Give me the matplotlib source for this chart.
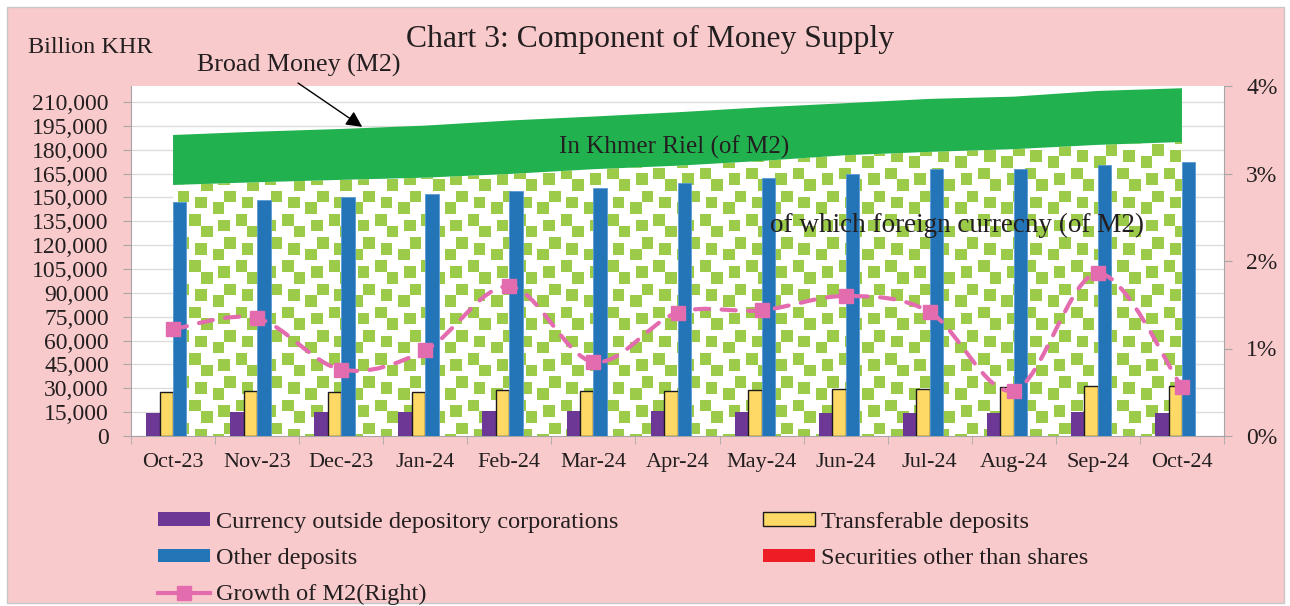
import numpy as np
import matplotlib
matplotlib.use("Agg")
import matplotlib.pyplot as plt
from matplotlib.path import Path
from matplotlib.patches import PathPatch, Rectangle, Patch
from matplotlib.lines import Line2D
from matplotlib.ticker import FuncFormatter

plt.rcParams['font.family'] = ['Liberation Serif', 'DejaVu Serif']

months = ['Oct-23', 'Nov-23', 'Dec-23', 'Jan-24', 'Feb-24', 'Mar-24', 'Apr-24',
          'May-24', 'Jun-24', 'Jul-24', 'Aug-24', 'Sep-24', 'Oct-24']

# billion KHR
currency = [14600, 14900, 14900, 14900, 15500, 15900, 15700, 14900, 14700, 14700, 14700, 15300, 14700]
transferable = [27500, 28500, 27900, 27900, 29100, 28500, 28300, 28700, 29700, 29700, 30800, 31600, 31600]
other_dep = [147100, 148400, 150500, 152400, 154000, 155700, 158900, 162400, 164600, 167700, 167900, 170400, 172100]
securities = [0, 0, 0, 0, 0, 0, 0, 0, 0, 0, 0, 0, 0]

# M2 split (areas)
foreign_cur = [157800, 159500, 161000, 162400, 164700, 167700, 169900, 172900, 176500, 178600, 180300, 183000, 184800]
khmer_riel = [31400, 31800, 32000, 32700, 33600, 33100, 33600, 33700, 32700, 33300, 33000, 33900, 33800]

# monthly growth of M2, %
growth = [1.22, 1.345, 0.76, 0.98, 1.71, 0.846, 1.41, 1.436, 1.60, 1.417, 0.52, 1.86, 0.557]

PINK_BG = '#F9CACB'
PURPLE = '#6D3895'
YELLOW = '#FFD966'
BLUE = '#2475B8'
RED = '#EE1C25'
GREEN = '#21B14F'
CONFETTI = '#9BCB48'
LINE_PINK = '#E36CAF'
GRAY = '#A6A6A6'
TXT = '#231F20'


def smooth_path(xs, ys):
    # catmull-rom through the points, like excel's smoothed line
    pts = np.column_stack([xs, ys]).astype(float)
    n = len(pts)
    verts = [pts[0]]
    codes = [Path.MOVETO]
    for i in range(n - 1):
        p0 = pts[i - 1] if i > 0 else pts[i]
        p1 = pts[i]
        p2 = pts[i + 1]
        p3 = pts[i + 2] if i + 2 < n else pts[i + 1]
        verts += [p1 + (p2 - p0) / 6, p2 - (p3 - p1) / 6, p2]
        codes += [Path.CURVE4] * 3
    return Path(verts, codes)


W, H = 1290, 606
fig = plt.figure(figsize=(W / 100, H / 100), dpi=100, facecolor='white')
fig.patches.append(Rectangle((7 / W, 3 / H), 1277 / W, 596 / H, transform=fig.transFigure,
                             facecolor=PINK_BG, edgecolor='#C8C8C8', lw=1, zorder=-10))

left, right, top, bottom = 131, 1224, 86, 436
ax = fig.add_axes([left / W, 1 - bottom / H, (right - left) / W, (bottom - top) / H])
ax.set_facecolor('white')

x = np.arange(len(months))
ymax = 220000
ax.set_xlim(-0.5, len(months) - 0.5)
ax.set_ylim(0, ymax)

# foreign currency area with confetti pattern
fc_poly = ax.fill_between(x, 0, foreign_cur, facecolor='white', edgecolor='none', zorder=1)
tile = np.array([[1, 0, 0, 0, 1, 1, 0, 1],
                 [0, 0, 0, 0, 1, 1, 0, 0],
                 [1, 1, 0, 0, 0, 0, 0, 0],
                 [1, 1, 0, 1, 1, 0, 0, 0],
                 [0, 0, 0, 1, 1, 0, 1, 1],
                 [0, 0, 0, 0, 0, 0, 1, 1],
                 [0, 0, 1, 1, 0, 0, 0, 0],
                 [1, 0, 1, 1, 0, 0, 0, 1]])
pw, ph = right - left, bottom - top
rr, cc = np.mgrid[0:ph, 0:pw]
mask = tile[(rr / 5.8).astype(int) % 8, (cc / 5.8).astype(int) % 8]
rgb = np.array(matplotlib.colors.to_rgb(CONFETTI))
img = np.ones((ph, pw, 3))
img[mask == 1] = rgb
im = ax.imshow(img, extent=(-0.5, len(months) - 0.5, 0, ymax), origin='upper',
               aspect='auto', interpolation='nearest', zorder=1.2)
im.set_clip_path(fc_poly.get_paths()[0], transform=ax.transData)

m2_top = [f + k for f, k in zip(foreign_cur, khmer_riel)]
ax.fill_between(x, foreign_cur, m2_top, facecolor=GREEN, edgecolor='none', zorder=1.5)

# bars
bw = 0.16
ax.bar(x - 1.5 * bw, currency, bw, color=PURPLE, zorder=3)
ax.bar(x - 0.5 * bw, transferable, bw, color=YELLOW, edgecolor='#1A1A1A', lw=1, zorder=3)
ax.bar(x + 0.5 * bw, other_dep, bw, color=BLUE, edgecolor='#5B9BD5', lw=0.6, zorder=3)
ax.bar(x + 1.5 * bw, securities, bw, color=RED, zorder=3)

ax.set_xlim(-0.5, len(months) - 0.5)
ax.set_ylim(0, ymax)
ax.set_yticks(np.arange(0, 210001, 15000))
ax.yaxis.set_major_formatter(FuncFormatter(lambda v, p: f'{int(v):,}'))
ax.yaxis.grid(True, color='#DCDCDC', lw=1)
ax.set_axisbelow(True)
ax.set_xticks(x)
ax.set_xticklabels(months)
ax.set_xticks(np.arange(-0.5, len(months), 1), minor=True)
ax.tick_params(axis='x', which='major', length=0, pad=12, labelsize=16, labelcolor=TXT)
ax.tick_params(axis='x', which='minor', length=6, color=GRAY)
ax.tick_params(axis='y', length=6, pad=10, color=GRAY, labelsize=17, labelcolor=TXT)
for s in ['top', 'right']:
    ax.spines[s].set_visible(False)
for s in ['left', 'bottom']:
    ax.spines[s].set_color(GRAY)

# growth line on right axis
ax2 = ax.twinx()
ax2.set_ylim(0, 4)
ax2.set_yticks([0, 1, 2, 3, 4])
ax2.yaxis.set_major_formatter(FuncFormatter(lambda v, p: f'{int(v)}%'))
ax2.tick_params(axis='y', length=6, pad=10, color=GRAY, labelsize=17, labelcolor=TXT)
for s in ['top', 'left', 'bottom']:
    ax2.spines[s].set_visible(False)
ax2.spines['right'].set_color(GRAY)
ax2.add_patch(PathPatch(smooth_path(x, growth), fill=False, edgecolor=LINE_PINK, lw=3,
                        linestyle=(0, (3.4, 3.0)), capstyle='round', zorder=4))
ax2.plot(x, growth, linestyle='none', marker='s', ms=10, color=LINE_PINK, zorder=5)

# texts
fig.text(650 / W, 1 - 47 / H, 'Chart 3: Component of Money Supply', ha='center', va='baseline',
         fontsize=22.8, color=TXT)
fig.text(28 / W, 1 - 53 / H, 'Billion KHR', ha='left', va='baseline', fontsize=17.5, color=TXT)
fig.text(197 / W, 1 - 72 / H, 'Broad Money (M2)', ha='left', va='baseline', fontsize=18.7, color=TXT)
ax.annotate('', xy=(2.25, 194300), xycoords='data', xytext=(298, H - 83), textcoords='figure pixels',
            arrowprops=dict(arrowstyle='-|>', color='black', lw=1, mutation_scale=24, shrinkA=0, shrinkB=0),
            zorder=6)
ax.text(5.96, 177700, 'In Khmer Riel (of M2)', ha='center', va='baseline', fontsize=18, color=TXT, zorder=6)
ax.text(9.32, 128500, 'of which foreign currecny (of M2)', ha='center', va='baseline', fontsize=19.5,
        color=TXT, zorder=6)

# legend
h_cur = Patch(facecolor=PURPLE, edgecolor='none')
h_trf = Patch(facecolor=YELLOW, edgecolor='#1A1A1A', lw=1)
h_oth = Patch(facecolor=BLUE, edgecolor='none')
h_sec = Patch(facecolor=RED, edgecolor='none')
h_gro = Line2D([], [], color=LINE_PINK, lw=3, marker='s', ms=10)
leg_kw = dict(loc='upper left', frameon=False, borderpad=0, borderaxespad=0, handlelength=2.15,
              handleheight=0.5, handletextpad=0.25, labelspacing=0.62, fontsize=17.5, labelcolor=TXT)
fig.legend([h_cur, h_oth, h_gro], ['Currency outside depository corporations', 'Other deposits',
                                   'Growth of M2(Right)'],
           bbox_to_anchor=(158 / W, 1 - 512 / H), **leg_kw)
fig.legend([h_trf, h_sec], ['Transferable deposits', 'Securities other than shares'],
           bbox_to_anchor=(763 / W, 1 - 512 / H), **leg_kw)

fig.savefig('out.png', dpi=100, facecolor=fig.get_facecolor())
